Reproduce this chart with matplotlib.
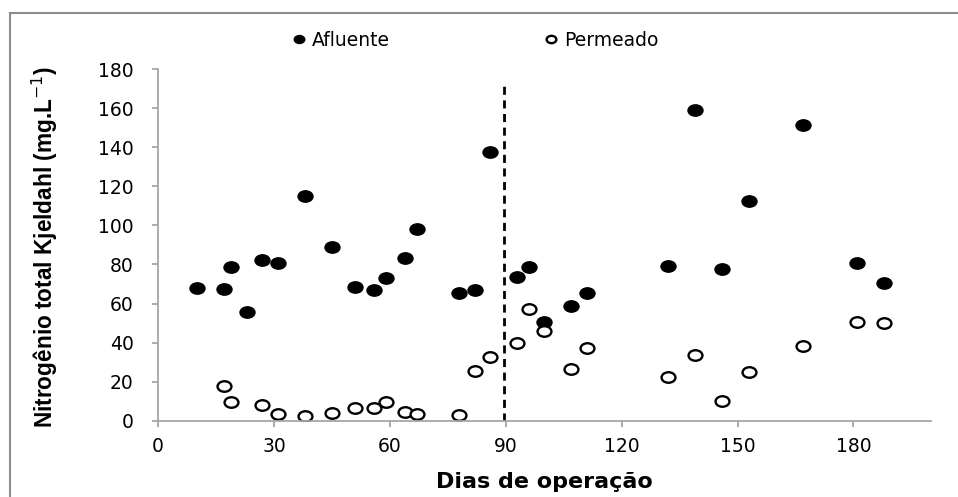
import numpy as np
import matplotlib
matplotlib.use("Agg")
import matplotlib.pyplot as plt
from matplotlib.path import Path
from matplotlib.transforms import Affine2D
from matplotlib.lines import Line2D

# dados
dias_afl = [10, 17, 19, 23, 27, 31, 38, 45, 51, 56, 59, 64, 67, 78, 82, 86,
            93, 96, 100, 107, 111, 132, 139, 146, 153, 167, 181, 188]
ntk_afl = [67.8, 67.2, 78.5, 55.5, 82.2, 80.9, 115, 88.7, 68.3, 66.7, 72.9,
           83.4, 98.3, 65.2, 66.9, 137.3, 73.7, 78.5, 50.7, 58.9, 65.2, 79.2,
           159, 77.5, 112.4, 151.2, 80.5, 70.3]

dias_perm = [17, 19, 27, 31, 38, 45, 51, 56, 59, 64, 67, 78, 82, 86, 93, 96,
             100, 107, 111, 132, 139, 146, 153, 167, 181, 188]
ntk_perm = [17.8, 9.7, 8.0, 3.3, 2.4, 4.1, 6.7, 6.7, 9.4, 4.6, 3.3, 2.9, 25.6,
            32.4, 39.6, 57, 45.9, 26.5, 37, 22.5, 33.6, 10.1, 25.1, 38.4, 50.7,
            49.8]

dia_corte = 89.5
xticks = [0, 30, 60, 90, 120, 150, 180]
yticks = [0, 20, 40, 60, 80, 100, 120, 140, 160, 180]

plt.rcParams['font.family'] = ['DejaVu Sans']

# marcador eliptico (o original esta esticado na horizontal)
elipse = Path.unit_circle().transformed(Affine2D().scale(1.32, 1.0))

fig = plt.figure(figsize=(9.58, 4.97), dpi=100)
ax = fig.add_axes([0.165, 0.1535, 0.8065, 0.7075])

ax.plot(dias_afl, ntk_afl, linestyle='none', marker=elipse, markersize=10.8,
        color='black', label='Afluente')
ax.plot(dias_perm, ntk_perm, linestyle='none', marker=elipse, markersize=10,
        markerfacecolor='white', markeredgecolor='black', markeredgewidth=1.7,
        label='Permeado')
ax.vlines(dia_corte, 0, 173, colors='black', linestyles=(0, (2.9, 2.0)), lw=2)

ax.set_xlim(0, 200)
ax.set_ylim(0, 180)
ax.set_xticks(xticks)
ax.set_yticks(yticks)
for s in ['top', 'right']:
    ax.spines[s].set_visible(False)
for s in ['left', 'bottom']:
    ax.spines[s].set_color('#a6a6a6')
    ax.spines[s].set_linewidth(1.3)
ax.tick_params(axis='both', colors='#a6a6a6', labelcolor='black',
               direction='out', length=4.5, width=1.3, labelsize=13.5)
ax.tick_params(axis='y', pad=13)
ax.tick_params(axis='x', pad=7)

ax.set_xlabel('Dias de operação', fontsize=16, fontweight='bold', labelpad=12)
fig.text(0.047, 0.502, 'Nitrogênio total Kjeldahl (mg.L$^{-1}$)',
         rotation=90, ha='center', va='center', fontsize=16.3,
         fontweight='bold', family='Liberation Sans')

fig.legend(loc='center', bbox_to_anchor=(0.496, 0.919), ncol=2,
           frameon=False, fontsize=13.5, markerscale=0.7,
           handlelength=0.8, handletextpad=0.3, columnspacing=8.2)

# moldura cinza do grafico
fig.add_artist(Line2D([9.5 / 958, 9.5 / 958], [0, 1 - 13 / 497],
                      transform=fig.transFigure, color='#8c8c8c', lw=1.5))
fig.add_artist(Line2D([9.5 / 958, 1], [1 - 13 / 497, 1 - 13 / 497],
                      transform=fig.transFigure, color='#8c8c8c', lw=1.5))

fig.savefig('out.png', dpi=100)
